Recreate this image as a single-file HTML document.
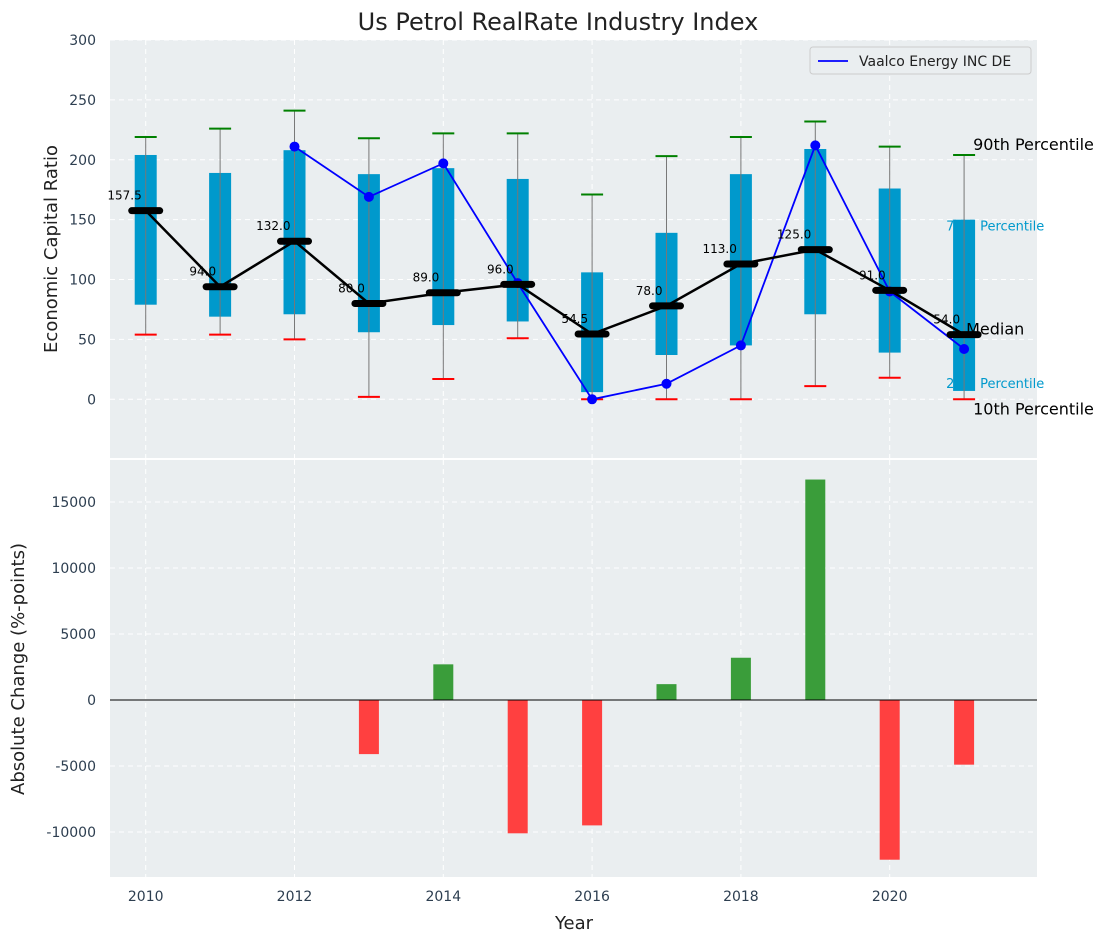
<!DOCTYPE html>
<html><head><meta charset="utf-8"><style>
body{margin:0;background:#fff;font-family:"Liberation Sans","DejaVu Sans",sans-serif}
svg text{font-family:"DejaVu Sans","Liberation Sans",sans-serif}
</style></head><body>
<svg id="c" width="1107" height="942" xmlns="http://www.w3.org/2000/svg"></svg>
<script>
const years=[2010,2011,2012,2013,2014,2015,2016,2017,2018,2019,2020,2021];
const q25=[79,69,71,56,62,65,6,37,45,71,39,7];
const q75=[204,189,208,188,193,184,106,139,188,209,176,150];
const p10=[54,54,50,2,17,51,0,0,0,11,18,0];
const p90=[219,226,241,218,222,222,171,203,219,232,211,204];
const medians=[157.5,94,132,80,89,96,54.5,78,113,125,91,54];
const compYears=[2012,2013,2014,2015,2016,2017,2018,2019,2020,2021];
const compVals=[211,169,197,97,0,13,45,212,90,42];
const changeYears=[2013,2014,2015,2016,2017,2018,2019,2020,2021];
const changeVals=[-4100,2700,-10100,-9500,1200,3200,16700,-12100,-4900];
const yTicksTop=[0,50,100,150,200,250,300];
const yTicksBot=[-10000,-5000,0,5000,10000,15000];
const xTicks=[2010,2012,2014,2016,2018,2020];

const NS="http://www.w3.org/2000/svg";
const svg=document.getElementById('c');
function el(t,a,p){const e=document.createElementNS(NS,t);for(const k in a)e.setAttribute(k,a[k]);(p||svg).appendChild(e);return e;}
const L=110,R=1037;
const x=v=>L+(v-2009.52)/(2021.98-2009.52)*(R-L);
const T1=40,B1=458,yt=v=>T1+(300-v)/(300-(-49))*(B1-T1);
const T2=460,B2=877,yb=v=>T2+(18180-v)/(18180+13410)*(B2-T2);

let e=el('rect',{x:L,y:T1,width:R-L,height:B1-T1,fill:'#eaeef0'});

e=el('rect',{x:L,y:T2,width:R-L,height:B2-T2,fill:'#eaeef0'});

const grid={stroke:'#fff','stroke-dasharray':'5,4','stroke-width':1};
yTicksTop.forEach(v=>el('line',Object.assign({x1:L,x2:R,y1:yt(v),y2:yt(v)},grid)));
yTicksBot.forEach(v=>el('line',Object.assign({x1:L,x2:R,y1:yb(v),y2:yb(v)},grid)));
xTicks.forEach(v=>{el('line',Object.assign({x1:x(v),x2:x(v),y1:T1,y2:B1},grid));el('line',Object.assign({x1:x(v),x2:x(v),y1:T2,y2:B2},grid));});

const lx=x(2021);
const pl=[['75th Percentile',150,'#0099cc',13,'label-75th',11],['25th Percentile',7,'#0099cc',13,'label-25th',-3]];
pl.forEach(p=>{const t=el('text',{x:lx-18,y:yt(p[1])+p[5],fill:p[2],'font-size':p[3]});t.textContent=p[0];});

years.forEach((yr,i)=>{
  const cx=x(yr),bw=22;
  let r=el('rect',{x:cx-bw/2,y:yt(q75[i]),width:bw,height:yt(q25[i])-yt(q75[i]),fill:'#0099cc'});
  
  el('line',{x1:cx,x2:cx,y1:yt(p90[i]),y2:yt(p10[i]),stroke:'#777','stroke-width':1});
  el('line',{x1:cx-11,x2:cx+11,y1:yt(p90[i]),y2:yt(p90[i]),stroke:'green','stroke-width':2});
  el('line',{x1:cx-11,x2:cx+11,y1:yt(p10[i]),y2:yt(p10[i]),stroke:'red','stroke-width':2});
});
[['90th Percentile',204,lx+9,'label-90th',-5],['Median',54,lx+2,'label-median',0],['10th Percentile',0,lx+9,'label-10th',15]].forEach(p=>{
  const t=el('text',{x:p[2],y:yt(p[1])+p[4],fill:'#000','font-size':16});t.textContent=p[0];
  });
let pts=compYears.map((yr,i)=>x(yr)+','+yt(compVals[i])).join(' ');
e=el('polyline',{points:pts,fill:'none',stroke:'blue','stroke-width':1.8});

compYears.forEach((yr,i)=>{const c=el('circle',{cx:x(yr),cy:yt(compVals[i]),r:5,fill:'blue'});
  });
pts=years.map((yr,i)=>x(yr)+','+yt(medians[i])).join(' ');
e=el('polyline',{points:pts,fill:'none',stroke:'#000','stroke-width':2.5});

years.forEach((yr,i)=>{
  const m=el('line',{x1:x(yr)-14,x2:x(yr)+14,y1:yt(medians[i]),y2:yt(medians[i]),stroke:'#000','stroke-width':7,'stroke-linecap':'round'});
  
  const t=el('text',{x:x(yr)-4,y:yt(medians[i])-11,'text-anchor':'end','font-size':12,fill:'#000'});
  t.textContent=medians[i].toFixed(1);
  
});
changeYears.forEach((yr,i)=>{
  const v=changeVals[i],y0=yb(0),y1=yb(v);
  const r=el('rect',{x:x(yr)-10,y:Math.min(y0,y1),width:20,height:Math.abs(y1-y0),fill:v>=0?'#3a9d3a':'#ff4040'});
  
});
el('line',{x1:L,x2:R,y1:yb(0),y2:yb(0),stroke:'#000','stroke-width':1});

const tc='#2d3e50';
yTicksTop.forEach(v=>{const t=el('text',{x:L-14,y:yt(v)+5,'text-anchor':'end','font-size':14,fill:tc});t.textContent=v;});
yTicksBot.forEach(v=>{const t=el('text',{x:L-14,y:yb(v)+5,'text-anchor':'end','font-size':14,fill:tc});t.textContent=v;});
xTicks.forEach(v=>{const t=el('text',{x:x(v),y:B2+24,'text-anchor':'middle','font-size':14,fill:tc});t.textContent=v;});
let t=el('text',{x:558,y:30,'text-anchor':'middle','font-size':24,fill:'#222'});t.textContent='Us Petrol RealRate Industry Index';

t=el('text',{x:574,y:929,'text-anchor':'middle','font-size':18,fill:'#222'});t.textContent='Year';

t=el('text',{x:57,y:249,'text-anchor':'middle','font-size':18,fill:'#222',transform:'rotate(-90 57 249)'});t.textContent='Economic Capital Ratio';

t=el('text',{x:24,y:669,'text-anchor':'middle','font-size':18,fill:'#222',transform:'rotate(-90 24 669)'});t.textContent='Absolute Change (%-points)';

const g=el('g',{});
el('rect',{x:810,y:47,width:221,height:27,rx:3,fill:'#eaeef0',stroke:'#ccc'},g);
el('line',{x1:818,x2:848,y1:61,y2:61,stroke:'blue','stroke-width':1.8},g);
t=el('text',{x:859,y:66,'font-size':14,fill:'#222'},g);t.textContent='Vaalco Energy INC DE';

</script>
</body></html>
